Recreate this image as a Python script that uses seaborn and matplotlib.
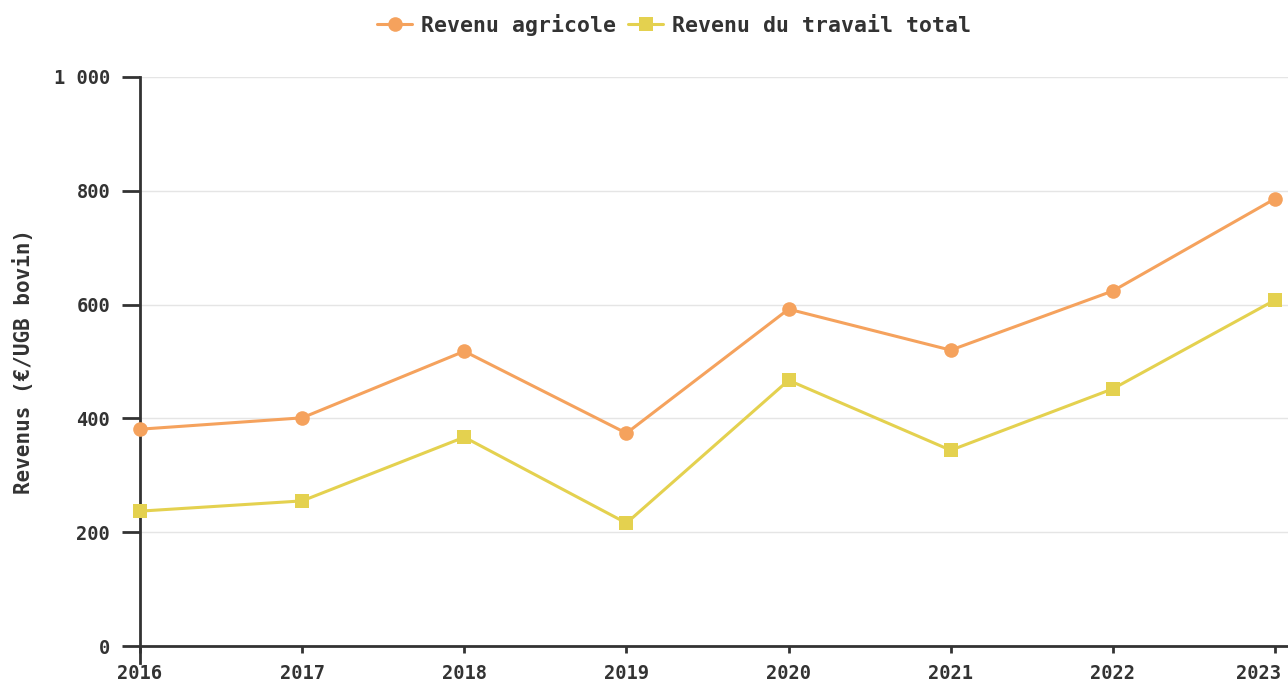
import matplotlib
matplotlib.use("Agg")
import matplotlib.pyplot as plt
import matplotlib.transforms as mtransforms
import seaborn as sns
import pandas as pd
from matplotlib.ticker import FuncFormatter

years = [2016, 2017, 2018, 2019, 2020, 2021, 2022, 2023]
revenu_agricole = [381, 401, 518, 374, 592, 520, 624, 786]
revenu_travail = [237, 255, 367, 216, 467, 344, 452, 608]
series_names = ["Revenu agricole", "Revenu du travail total"]
y_ticks = [0, 200, 400, 600, 800, 1000]

sns.set_theme(style="white")
plt.rcParams['font.family'] = ['DejaVu Sans Mono', 'DejaVu Sans']
plt.rcParams['font.weight'] = 'bold'

df = pd.DataFrame({
    "Année": years * 2,
    "Valeur": revenu_agricole + revenu_travail,
    "Série": [series_names[0]] * len(years) + [series_names[1]] * len(years),
})

fig = plt.figure(figsize=(12.88, 6.82), dpi=100)
ax = fig.add_axes([140 / 1288, 1 - 646 / 682, 1 - 140 / 1288, (646 - 77) / 682])

palette = {series_names[0]: "#f5a25d", series_names[1]: "#e4d14f"}
markers = {series_names[0]: "o", series_names[1]: "s"}
sns.lineplot(data=df, x="Année", y="Valeur", hue="Série", style="Série",
             palette=palette, markers=markers, dashes=False, linewidth=2.2,
             markersize=10.5, markeredgewidth=0, ax=ax, clip_on=False, zorder=3)

ax.set_xlim(2016, 2016 + 7 * (1148 / 1135))
ax.set_ylim(0, 1000)
ax.set_xticks(years)
ax.set_yticks(y_ticks)
ax.yaxis.set_major_formatter(FuncFormatter(lambda v, p: f"{int(v):,}".replace(",", " ")))
ax.grid(axis="y", color="#e5e5e5", linewidth=1)
ax.grid(axis="x", visible=False)
for s in ["top", "right"]:
    ax.spines[s].set_visible(False)
for s in ["left", "bottom"]:
    ax.spines[s].set_color("#333333")
    ax.spines[s].set_linewidth(2)
ax.spines["left"].set_bounds(-30, 1000)
ax.tick_params(axis="both", direction="out", width=2, color="#333333",
               labelsize=13.5, labelcolor="#333333", bottom=True, left=True)
ax.tick_params(axis="y", length=13, pad=8.5)
ax.tick_params(axis="x", length=5, pad=8)
for lab in ax.get_xticklabels() + ax.get_yticklabels():
    lab.set_fontweight("bold")
last = ax.get_xticklabels()[-1]
last.set_transform(last.get_transform() + mtransforms.ScaledTranslation(-16 / 100, 0, fig.dpi_scale_trans))
ax.set_xlabel("")
ax.set_ylabel("Revenus (€/UGB bovin)", fontsize=15, fontweight="bold", color="#333333", labelpad=14)

handles, labels = ax.get_legend_handles_labels()
leg = fig.legend(handles=handles, labels=labels, loc="center", bbox_to_anchor=(674 / 1288, 1 - 25 / 682),
                 ncol=2, frameon=False, handlelength=1.6, handletextpad=0.4, columnspacing=0.6,
                 prop={"weight": "bold", "size": 15.5})
for t in leg.get_texts():
    t.set_color("#333333")
ax.get_legend().remove() if ax.get_legend() else None

fig.savefig("out.png", dpi=100)
